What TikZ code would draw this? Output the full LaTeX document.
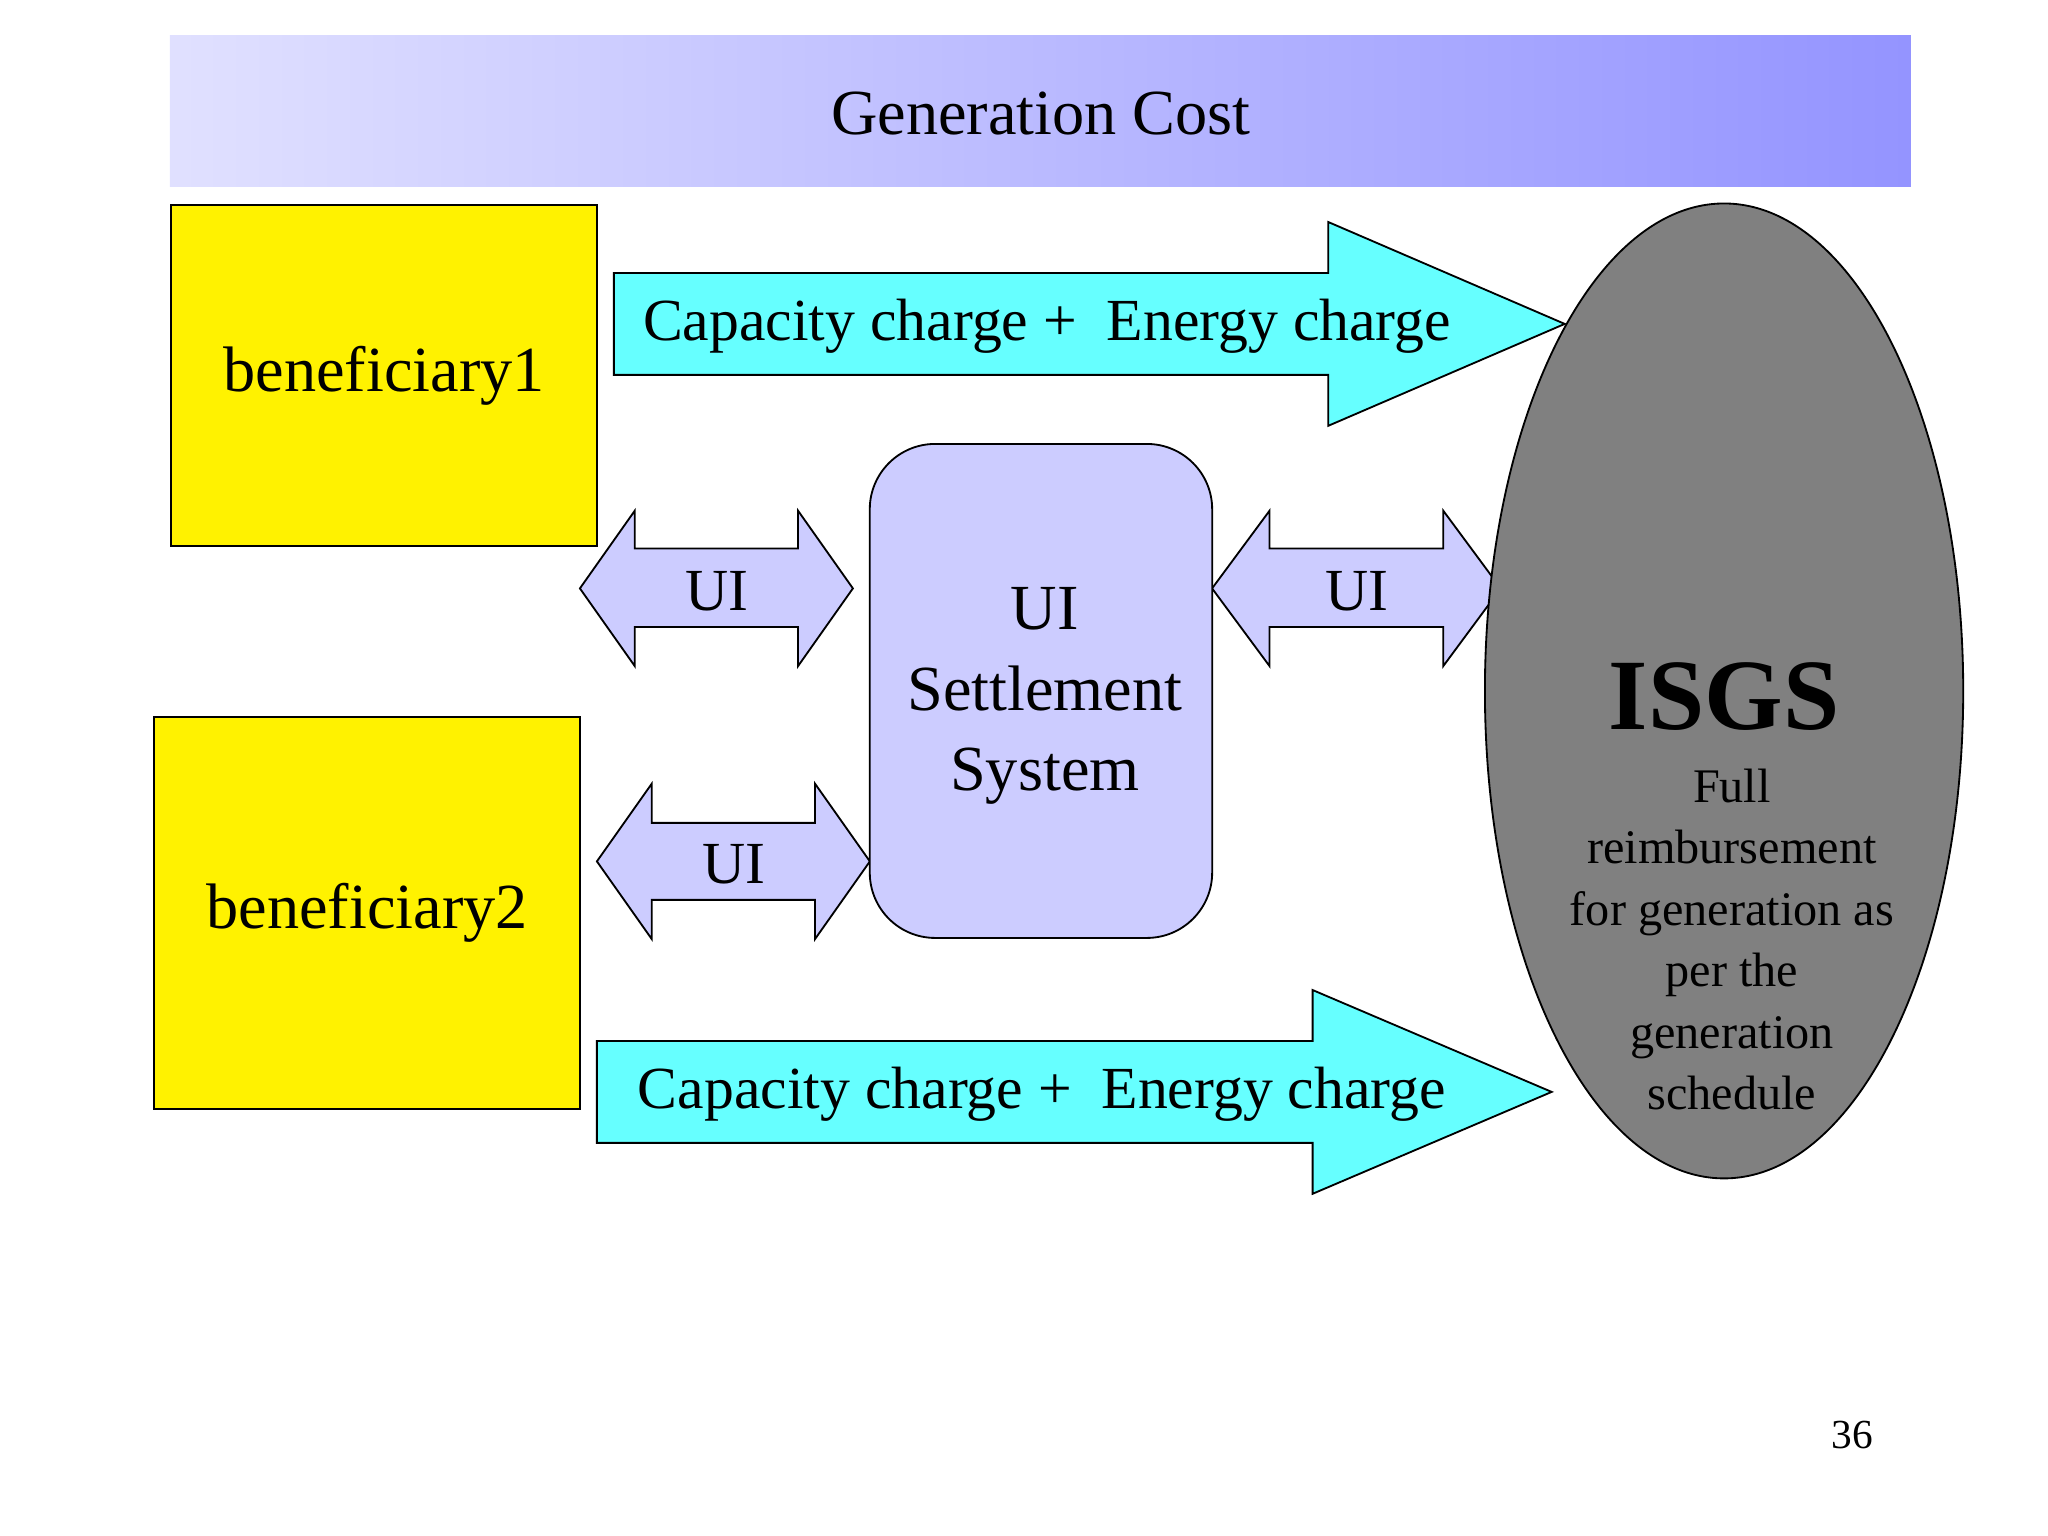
\documentclass[tikz,border=0pt]{standalone}
\usepackage{fontspec}
\setmainfont{Liberation Serif}
\usetikzlibrary{shapes.geometric}
\definecolor{bcyan}{HTML}{66FFFF}
\definecolor{blav}{HTML}{CCCCFF}
\definecolor{bgray}{HTML}{808080}
\tikzset{
    fatarrow/.style={draw=black, fill=bcyan, line join=miter},
    uiarrow/.style={draw=black, fill=blav, line join=miter},
    benbox/.style={draw=black, fill=yellow, minimum width=3.26cm},
    lbl/.style={font=\fontsize{13pt}{15pt}\selectfont}
}
\begin{document}
\begin{tikzpicture}[x=0.01cm, y=-0.01cm]
    \useasboundingbox[fill=white] (0,0) rectangle (1568,1176);
    % title bar
    \shade[left color=blue!12, right color=blue!42] (130,27) rectangle (1463,143);
    \node[font=\fontsize{14pt}{16pt}\selectfont] (title) at (797,87) {Generation Cost};
    % beneficiaries
    \node[benbox, minimum height=2.61cm, font=\fontsize{14pt}{16pt}\selectfont] (ben1) at (294,287.5) {beneficiary1};
    \node[benbox, minimum height=3.0cm, font=\fontsize{14pt}{16pt}\selectfont] (ben2) at (281,699) {beneficiary2};
    % charge arrows
    \draw[fatarrow] (470,209) -- (1017,209) -- (1017,170) -- (1198,248) -- (1017,326) -- (1017,287) -- (470,287) -- cycle;
    \node[lbl, anchor=west] (chg1) at (480,250) {Capacity charge +\ \ Energy charge};
    \draw[fatarrow] (457,797) -- (1005,797) -- (1005,758) -- (1188,836) -- (1005,914) -- (1005,875) -- (457,875) -- cycle;
    \node[lbl, anchor=west] (chg2) at (476,838) {Capacity charge +\ \ Energy charge};
    % UI arrows
    \draw[uiarrow] (444,450.5) -- (486,391) -- (486,420) -- (611,420) -- (611,391) -- (653,450.5) -- (611,510) -- (611,480) -- (486,480) -- (486,510) -- cycle;
    \node[lbl] (ui1) at (549,453) {UI};
    \draw[uiarrow] (457,659.5) -- (499,600) -- (499,630) -- (624,630) -- (624,600) -- (666,659.5) -- (624,719) -- (624,689) -- (499,689) -- (499,719) -- cycle;
    \node[lbl] (ui2) at (562,662) {UI};
    \draw[uiarrow] (928,450.5) -- (972,391) -- (972,420) -- (1105,420) -- (1105,391) -- (1149,450.5) -- (1105,510) -- (1105,480) -- (972,480) -- (972,510) -- cycle;
    \node[lbl] (ui3) at (1039,453) {UI};
    % settlement system
    \node[draw=black, fill=blav, rounded corners=0.5cm, minimum width=2.62cm, minimum height=3.78cm,
          align=center, font=\fontsize{14pt}{17.5pt}\selectfont] (uiss) at (797,529) {};
    \node[align=center, font=\fontsize{14pt}{17.5pt}\selectfont] (uisstxt) at (800,533) {UI\\Settlement\\System};
    % ISGS
    \node[ellipse, draw=black, fill=bgray, minimum width=3.66cm, minimum height=7.46cm] (isgs) at (1320,529) {};
    \node[font=\bfseries\fontsize{22pt}{24pt}\selectfont] (isgst) at (1320,533) {ISGS};
    \node[align=center, font=\fontsize{10.5pt}{13.4pt}\selectfont, anchor=north] (isgsd) at (1326,576)
        {Full\\reimbursement\\for generation as\\per the\\generation\\schedule};
    % page number
    \node[font=\fontsize{9pt}{10pt}\selectfont] (pg) at (1418,1099) {36};
\end{tikzpicture}
\end{document}
